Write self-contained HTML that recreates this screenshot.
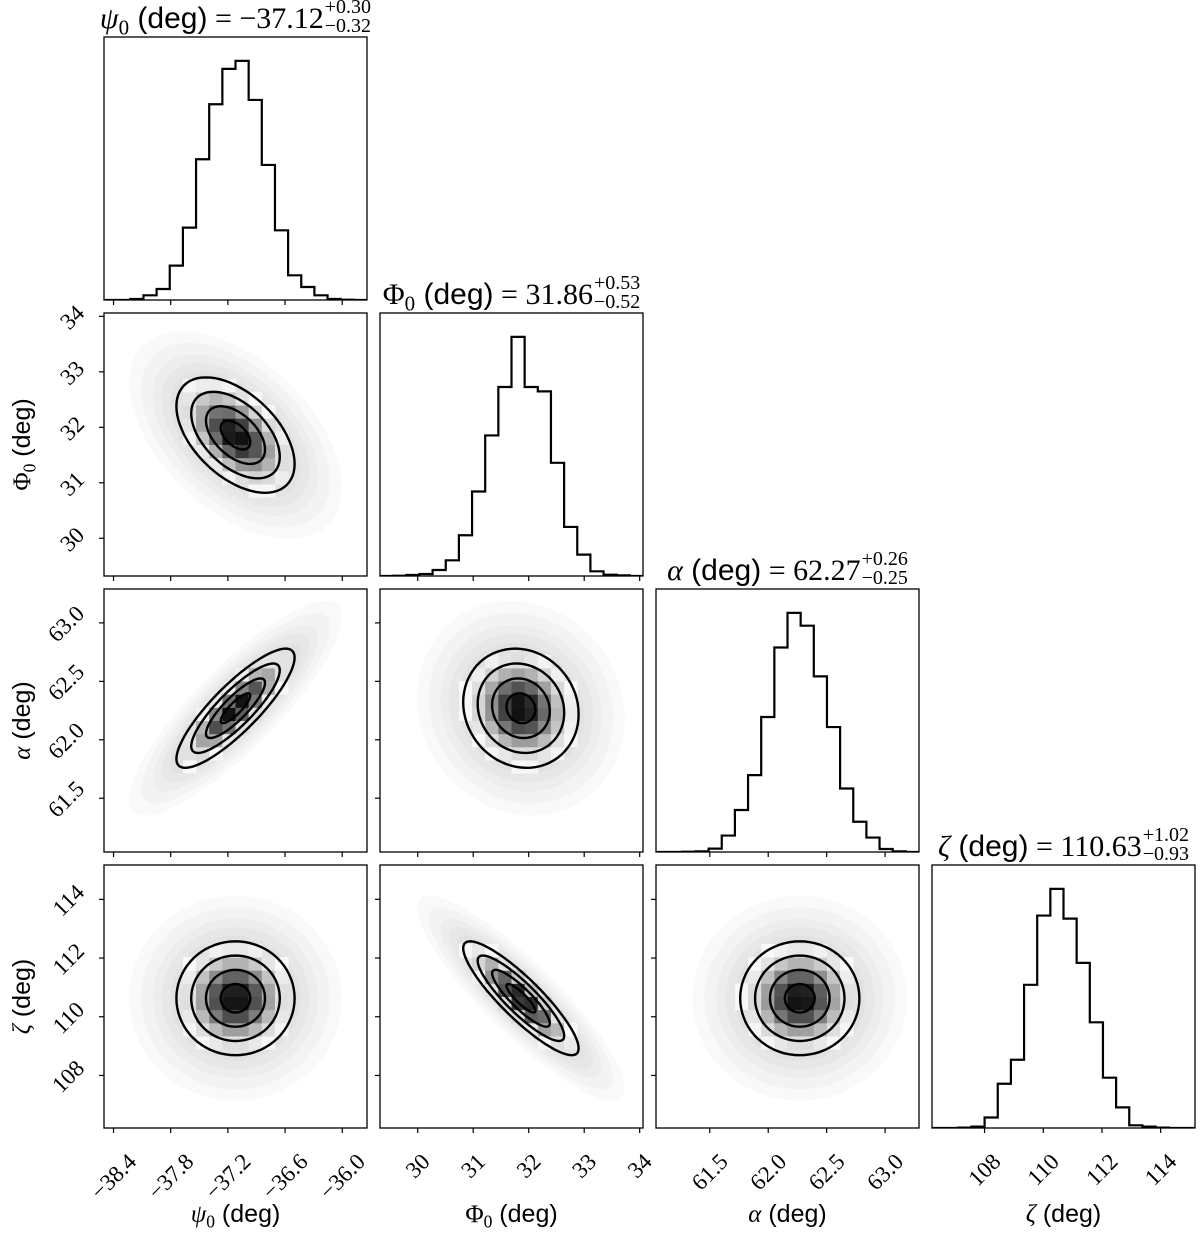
<!DOCTYPE html>
<html><head><meta charset="utf-8"><style>
body{margin:0;background:#fff}
svg{display:block}
.serif{font-family:"Liberation Serif","DejaVu Serif",serif}
.sans{font-family:"Liberation Sans","DejaVu Sans",sans-serif}
</style></head><body>
<svg id="fig" width="1200" height="1233" viewBox="0 0 1200 1233" xmlns="http://www.w3.org/2000/svg"></svg>
<script>
// ---- data ----
const paramSymbols = ['ψ','Φ','α','ζ'];
const paramItalic = [true,false,true,true];
const paramNames = ['psi0','phi0','alpha','zeta'];
const ranges = [[-38.50,-35.74],[29.32,34.06],[61.04,63.29],[106.21,115.17]];
const means = [-37.12, 31.86, 62.27, 110.63];
const sds = [0.31, 0.52, 0.255, 0.97];
const titleValues = ['−37.12','31.86','62.27','110.63'];
const titlePlus = ['+0.30','+0.53','+0.26','+1.02'];
const titleMinus = ['−0.32','−0.52','−0.25','−0.93'];
const tickVals0 = [-38.4,-37.8,-37.2,-36.6,-36.0];
const tickVals1 = [30,31,32,33,34];
const tickVals2 = [61.5,62.0,62.5,63.0];
const tickVals3 = [108,110,112,114];
const tickLabels0 = ['−38.4','−37.8','−37.2','−36.6','−36.0'];
const tickLabels1 = ['30','31','32','33','34'];
const tickLabels2 = ['61.5','62.0','62.5','63.0'];
const tickLabels3 = ['108','110','112','114'];
const hist0 = [0,0,3,14,33,103,217,422,587,693,717,600,405,209,74,39,14,3,1,0];
const hist1 = [0,1,3,6,18,47,122,253,421,566,716,566,553,339,147,64,14,4,2,0];
const hist2 = [0,0,1,2,10,49,125,229,402,609,712,674,523,372,189,90,43,9,2,0];
const hist3 = [0,0,1,4,31,131,202,424,629,708,620,489,313,149,61,8,4,1,0,0];
// correlations [row][col] for 2D panels (row > col)
const corr10 = -0.5, corr20 = 0.85, corr21 = -0.1, corr30 = 0.0, corr31 = -0.88, corr32 = 0.0;
const contourLevels = [0.5, 1.0, 1.5, 2.0];

// ---- layout ----
const tickVals=[tickVals0,tickVals1,tickVals2,tickVals3];
const tickLabels=[tickLabels0,tickLabels1,tickLabels2,tickLabels3];
const hists=[hist0,hist1,hist2,hist3];
const corrs={'1,0':corr10,'2,0':corr20,'2,1':corr21,'3,0':corr30,'3,1':corr31,'3,2':corr32};
const colX=[104,380,656,932], rowY=[37,313,589,865], S=263;
const NS='http://www.w3.org/2000/svg';
const svg=document.getElementById('fig');
function el(tag,attrs,parent){const e=document.createElementNS(NS,tag);for(const k in attrs)e.setAttribute(k,attrs[k]);(parent||svg).appendChild(e);return e;}
function xMap(p,col){return v=>colX[col]+(v-ranges[p][0])/(ranges[p][1]-ranges[p][0])*S;}
function yMap(p,row){return v=>rowY[row]+S-(v-ranges[p][0])/(ranges[p][1]-ranges[p][0])*S;}
const TICKFS=23;

for(let r=0;r<4;r++){
  for(let c=0;c<=r;c++){
    const g=el('g',{});
    
    
    const X=xMap(c,c), x0=colX[c], y0=rowY[r];
    const clip=el('clipPath',{id:'clip'+r+c},g);
    el('rect',{x:x0,y:y0,width:S,height:S},clip);
    const inner=el('g',{'clip-path':'url(#clip'+r+c+')'},g);
    if(r===c){
      const h=hists[c], mx=Math.max(...h)*1.1, n=h.length;
      const edge=i=>ranges[c][0]+(ranges[c][1]-ranges[c][0])*i/n;
      const hy=v=>y0+S-v/mx*S;
      let d='M'+X(edge(0))+','+hy(h[0]);
      for(let i=0;i<n;i++){d+=' L'+X(edge(i))+','+hy(h[i])+' L'+X(edge(i+1))+','+hy(h[i]);}
      const p=el('path',{d:d,fill:'none',stroke:'#000','stroke-width':2.2},inner);
      
      
    } else {
      const Y=yMap(r,r), rho=corrs[r+','+c];
      const ell=(rad)=>{let pts=[];for(let k=0;k<=72;k++){const t=k/72*2*Math.PI;
        const vx=means[c]+rad*sds[c]*Math.cos(t);
        const vy=means[r]+rad*sds[r]*(rho*Math.cos(t)+Math.sqrt(1-rho*rho)*Math.sin(t));
        pts.push(X(vx).toFixed(1)+','+Y(vy).toFixed(1));}return 'M'+pts.join(' L')+'Z';};
      // scatter cloud
      [3.6,3.2,2.8,2.5,2.2].forEach(rad=>{
        const cl=el('path',{d:ell(rad),fill:'#888','fill-opacity':0.05},inner);
        
        
      });
      // density cells
      const nb=20, f2=Math.exp(-2);
      for(let i=0;i<nb;i++)for(let j=0;j<nb;j++){
        const ax=ranges[c][0]+(ranges[c][1]-ranges[c][0])*(i+0.5)/nb;
        const ay=ranges[r][0]+(ranges[r][1]-ranges[r][0])*(j+0.5)/nb;
        const u=(ax-means[c])/sds[c], w=(ay-means[r])/sds[r];
        const m2=(u*u-2*rho*u*w+w*w)/(1-rho*rho);
        const f=Math.exp(-m2/2);
        if(f<f2)continue;
        const s=Math.pow((f-f2)/(1-f2),1.3);
        const gv=Math.round(248-240*s);
        const xa=X(ranges[c][0]+(ranges[c][1]-ranges[c][0])*i/nb), xb=X(ranges[c][0]+(ranges[c][1]-ranges[c][0])*(i+1)/nb);
        const ya=Y(ranges[r][0]+(ranges[r][1]-ranges[r][0])*(j+1)/nb), yb=Y(ranges[r][0]+(ranges[r][1]-ranges[r][0])*j/nb);
        const cell=el('rect',{x:xa,y:ya,width:xb-xa+0.5,height:yb-ya+0.5,fill:'rgb('+gv+','+gv+','+gv+')'},inner);
        
        
      }
      contourLevels.forEach(rad=>{
        const ct=el('path',{d:ell(rad),fill:'none',stroke:'#000','stroke-width':2.4,'stroke-linejoin':'round'},inner);
        
        
      });
      // left ticks
      tickVals[r].forEach((v,k)=>{
        const t=el('line',{x1:x0-5,x2:x0,y1:Y(v),y2:Y(v),stroke:'#000','stroke-width':1.2},g);
        
        
        if(c===0){
          const tl=el('text',{'font-size':TICKFS,'text-anchor':'middle','dominant-baseline':'central',class:'serif'},g);
          tl.textContent=tickLabels[r][k];
          
          
          const L=tl.getComputedTextLength(), wd=(L+TICKFS*0.7)*0.707;
          tl.setAttribute('transform','translate('+(86-wd/2)+','+(Y(v)+1)+') rotate(-45)');
        }
      });
    }
    // frame
    const fr=el('rect',{x:x0,y:y0,width:S,height:S,fill:'none',stroke:'#000','stroke-width':1.3},g);
    
    
    // bottom ticks
    tickVals[c].forEach((v,k)=>{
      const t=el('line',{x1:X(v),x2:X(v),y1:y0+S,y2:y0+S+5,stroke:'#000','stroke-width':1.2},g);
      
      
      if(r===3){
        const tl=el('text',{'font-size':TICKFS,'text-anchor':'middle','dominant-baseline':'central',class:'serif'},g);
        tl.textContent=tickLabels[c][k];
        
        
        const L=tl.getComputedTextLength(), wd=(L+TICKFS*0.7)*0.707;
        tl.setAttribute('transform','translate('+X(v)+','+(1152+wd/2)+') rotate(-45)');
      }
    });
  }
}

function symbolText(parent,i,attrs,fs){
  const t=el('text',attrs,parent);
  const a=el('tspan',{class:'serif','font-style':paramItalic[i]?'italic':'normal'},t);a.textContent=paramSymbols[i];
  if(i<2){const s=el('tspan',{class:'serif','font-size':fs*0.7,dy:fs*0.22},t);s.textContent='0';
    const b=el('tspan',{class:'sans',dy:-fs*0.22},t);b.textContent=' (deg)';}
  else{const b=el('tspan',{class:'sans'},t);b.textContent=' (deg)';}
  return t;
}
// axis labels
for(let i=0;i<4;i++){
  const xl=symbolText(svg,i,{'font-size':25,'text-anchor':'middle',x:colX[i]+S/2,y:1222},25);
  
  
  if(i>0){
    const cy=rowY[i]+S/2;
    const yl=symbolText(svg,i,{'font-size':25,'text-anchor':'middle',x:0,y:0,transform:'translate(30,'+cy+') rotate(-90)'},25);
    
    
  }
}
// titles
for(let i=0;i<4;i++){
  const g=el('g',{});
  
  
  const base=rowY[i]-9;
  const t=symbolText(g,i,{'font-size':30,x:0,y:base},30);
  const v=el('tspan',{class:'serif'},t);v.textContent=' = '+titleValues[i];
  const W=t.getComputedTextLength();
  const sp=el('text',{'font-size':20,class:'serif',x:0,y:base-15},g);sp.textContent=titlePlus[i];
  const sb=el('text',{'font-size':20,class:'serif',x:0,y:base+4},g);sb.textContent=titleMinus[i];
  const sw=Math.max(sp.getComputedTextLength(),sb.getComputedTextLength());
  const start=colX[i]+S/2-(W+sw+1)/2;
  t.setAttribute('x',start);sp.setAttribute('x',start+W+1);sb.setAttribute('x',start+W+1);
}
</script>
</body></html>
